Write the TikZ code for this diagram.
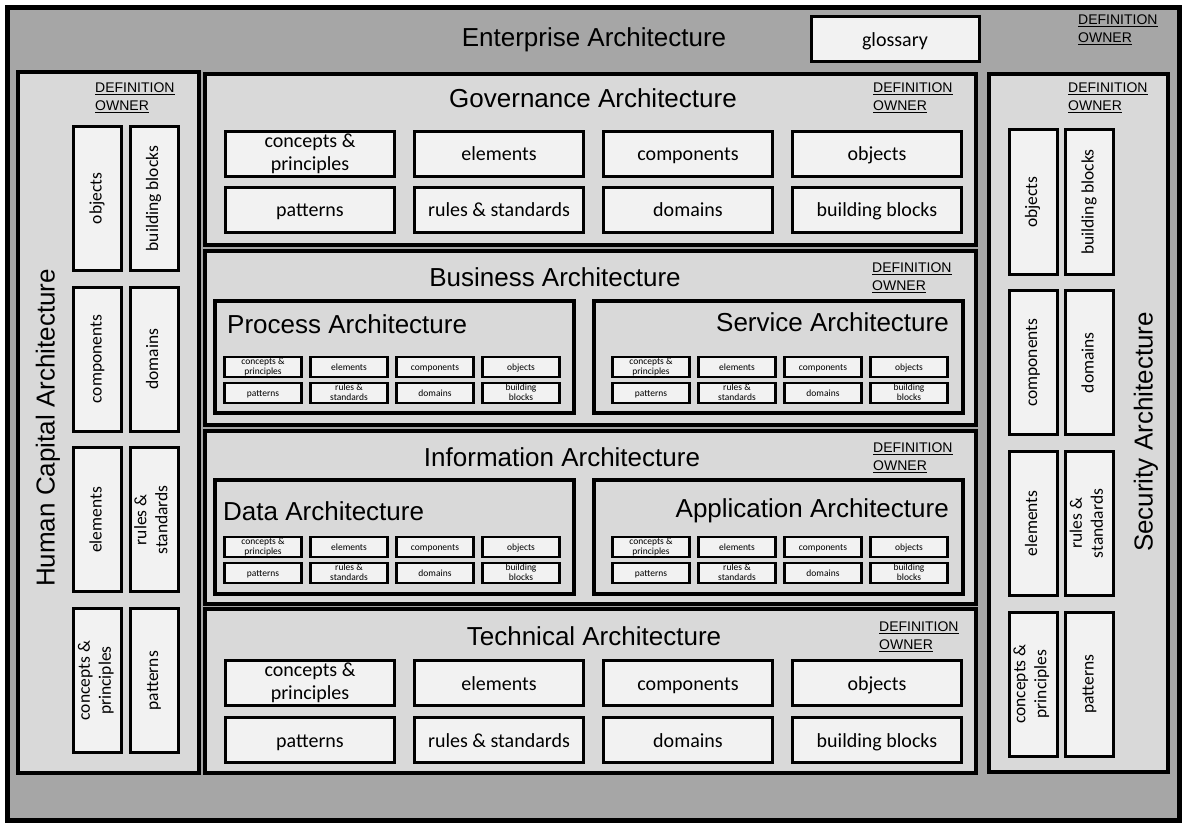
\documentclass[tikz,border=0pt]{standalone}
\usepackage{fontspec}
\setmainfont{Liberation Sans}
\newfontfamily\calibri{Carlito}
\usepackage{tikz}
\usetikzlibrary{positioning,fit}
\definecolor{outergray}{HTML}{A6A6A6}
\definecolor{panelgray}{HTML}{D9D9D9}
\definecolor{boxgray}{HTML}{F2F2F2}
\newcommand\boxtop{\rule{0pt}{0.9em}}
\newcommand\boxbot{\rule[-0.2em]{0pt}{0.2em}}

\begin{document}
\begin{tikzpicture}[x=1pt,y=-1pt,
  outer frame/.style={draw,line width=5pt,fill=outergray,inner sep=0pt},
  panel/.style={draw,line width=4pt,fill=panelgray,inner sep=0pt},
  plain box/.style={draw,line width=3pt,fill=boxgray,inner sep=0pt,align=center},
  big box/.style={plain box,minimum width=169,minimum height=45,font=\calibri\fontsize{20}{23}\selectfont,execute at begin node=\boxtop,execute at end node=\boxbot},
  mini box/.style={big box,line width=2.5pt,minimum width=77,minimum height=20,font=\calibri\fontsize{9.5}{10.5}\selectfont},
  side box/.style={plain box,minimum width=144,minimum height=48,rotate=90,font=\calibri\fontsize{17.5}{21}\selectfont,execute at begin node=\strut,execute at end node=\strut},
  arch title/.style={inner sep=0pt,font=\fontsize{26}{30}\selectfont},
  owner/.style={inner sep=0pt,anchor=north west,align=left,font=\fontsize{14}{18}\selectfont}]
\useasboundingbox (0,0) rectangle (1187,824);
% frames
\node[outer frame,fit={(7.5,7.5) (1179.5,820)}] (ea) {};
\node[panel,fit={(17.5,72.5) (198.5,772.5)}] (hca) {};
\node[panel,fit={(205,74) (976,244.5)}] (ga) {};
\node[panel,fit={(205,251) (976,425)}] (ba) {};
\node[panel,fit={(205,431) (976,604)}] (ia) {};
\node[panel,fit={(205,608.5) (976,772.5)}] (ta) {};
\node[panel,fit={(988.5,74) (1168,771.5)}] (sa) {};
\node[panel,fit={(215,300.5) (574,412.5)}] (pa) {};
\node[panel,fit={(594,300.5) (962.5,412.5)}] (sva) {};
\node[panel,fit={(215,480) (574,594)}] (da) {};
\node[panel,fit={(594,480) (962.5,594)}] (aa) {};
\node[plain box,fit={(811,17) (979,62)}] (gl) {};
\node[font=\calibri\fontsize{20}{23}\selectfont] (gl-t) at (gl.center) {\boxtop glossary\boxbot};
% titles
\begin{scope}[every node/.style={arch title}]
\node (ea-t) at (594,40) {Enterprise Architecture};
\node (ga-t) at (593,98) {Governance Architecture};
\node (ba-t) at (555,277) {Business Architecture};
\node (ia-t) at (562,457) {Information Architecture};
\node (ta-t) at (594,636) {Technical Architecture};
\node[anchor=west] (pa-t) at (227,324) {Process Architecture};
\node[anchor=east] (sva-t) at (949,322) {Service Architecture};
\node[anchor=west] (da-t) at (223,511) {Data Architecture};
\node[anchor=east] (aa-t) at (949,511) {Application Architecture};
\node[rotate=90] (hca-t) at (48,428) {Human Capital Architecture};
\node[rotate=90] (sa-t) at (1146,432) {Security Architecture};
\end{scope}
% definition owners
\begin{scope}[every node/.style={owner}]
\node (ea-o) at (1078,15) {\underline{DEFINITION}\\\underline{OWNER}};
\node (hca-o) at (95,83) {\underline{DEFINITION}\\\underline{OWNER}};
\node (ga-o) at (873,83) {\underline{DEFINITION}\\\underline{OWNER}};
\node (ba-o) at (872,263) {\underline{DEFINITION}\\\underline{OWNER}};
\node (ia-o) at (873,443) {\underline{DEFINITION}\\\underline{OWNER}};
\node (ta-o) at (879,622) {\underline{DEFINITION}\\\underline{OWNER}};
\node (sa-o) at (1068,83) {\underline{DEFINITION}\\\underline{OWNER}};
\end{scope}
% building blocks of each architecture
\foreach \p/\ya/\yb in {ga/154/210,ta/683/740}{
  \foreach \lbl [count=\c] in {{concepts \&\\principles},elements,components,objects}
    \node[big box] (\p-1-\c) at ({310+189*(\c-1)},\ya) {\lbl};
  \foreach \lbl [count=\c] in {patterns,rules \& standards,domains,building blocks}
    \node[big box] (\p-2-\c) at ({310+189*(\c-1)},\yb) {\lbl};
}
\foreach \p/\x/\y in {pa/263/367,sva/651/367,da/263/547,aa/651/547}{
  \foreach \lbl [count=\c] in {{concepts \&\\principles},elements,components,objects}
    \node[mini box] (\p-1-\c) at ({\x+86*(\c-1)},\y) {\lbl};
  \foreach \lbl [count=\c] in {patterns,{rules \&\\standards},domains,{building\\blocks}}
    \node[mini box] (\p-2-\c) at ({\x+86*(\c-1)},{\y+26}) {\lbl};
}
\foreach \p/\xa/\xb/\y in {hca/97.5/154/198.5,sa/1033/1089.5/202}{
  \foreach \lbl [count=\r] in {objects,components,elements,{concepts \&\\principles}}
    \node[side box] (\p-1-\r) at (\xa,{\y+160.7*(\r-1)}) {\lbl};
  \foreach \lbl [count=\r] in {building blocks,domains,{rules \&\\standards},patterns}
    \node[side box] (\p-2-\r) at (\xb,{\y+160.7*(\r-1)}) {\lbl};
}
\end{tikzpicture}
\end{document}
